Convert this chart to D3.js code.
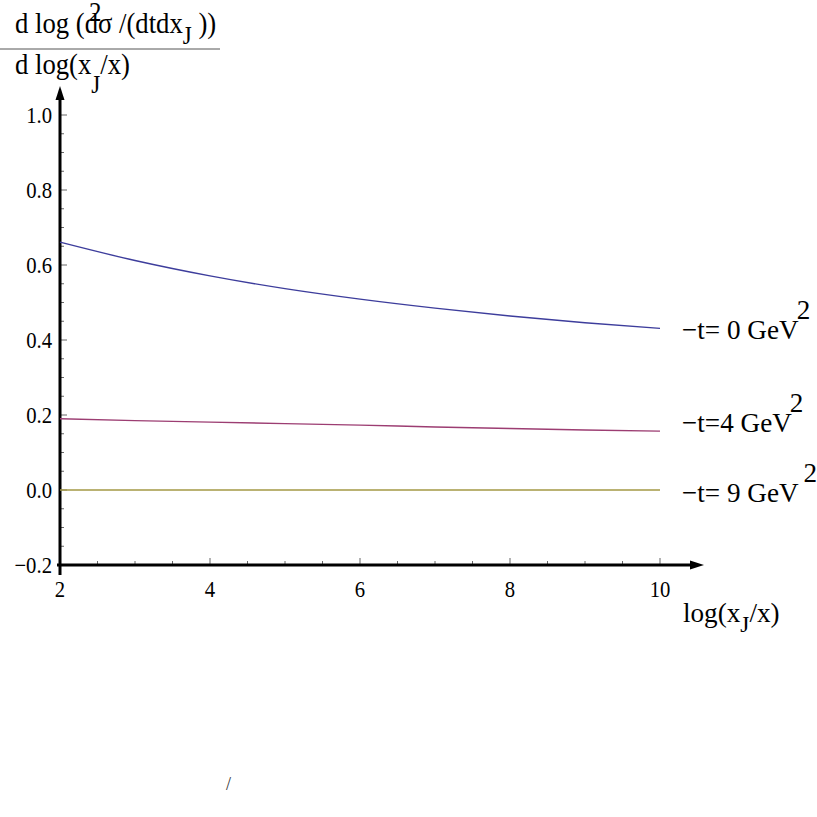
<!DOCTYPE html>
<html>
<head>
<meta charset="utf-8">
<script src="https://cdn.jsdelivr.net/npm/d3@7"></script>
<style>
  body { margin: 0; background: #fff; }
  text { font-family: "Liberation Serif", "DejaVu Serif", serif; }
</style>
</head>
<body>
<div class="canva"></div>
<script>
// data
const xValues = [2, 3, 4, 5, 6, 7, 8, 9, 10];
const t0Values = [0.661, 0.612, 0.571, 0.537, 0.509, 0.485, 0.464, 0.446, 0.431];
const t4Values = [0.190, 0.185, 0.181, 0.177, 0.173, 0.168, 0.164, 0.160, 0.157];
const t9Values = [0, 0, 0, 0, 0, 0, 0, 0, 0];
const seriesNames = ["\u2212t= 0 GeV", "\u2212t=4  GeV", "\u2212t= 9 GeV"];
const seriesColors = ["#3d3d9c", "#9c3d72", "#a39845"];
const xTicks = [2, 4, 6, 8, 10];
const yTicks = [-0.2, 0.0, 0.2, 0.4, 0.6, 0.8, 1.0];

const svg = d3.select(".canva").append("svg")
    .attr("width", 817)
    .attr("height", 817);

const x = d3.scaleLinear().domain([2, 10]).range([60, 660]);
const y = d3.scaleLinear().domain([-0.2, 1.0]).range([565, 115]);

// text squeezed sideways, like the reference's narrow Times
function squeezed(px, py, sx) {
    return svg.append("g")
        .attr("transform", `translate(${px},${py}) scale(${sx},1)`)
        .append("text");
}

// minor ticks
const yMinor = d3.range(-0.2, 1.001, 0.05);
svg.append("g").selectAll("line")
    .data(yMinor)
    .enter().append("line")
    .attr("x1", x(2))
    .attr("x2", (d, i) => x(2) + (i % 4 === 0 ? 7 : 4))
    .attr("y1", d => y(d))
    .attr("y2", d => y(d))
    .attr("stroke", "#666")
    .attr("stroke-width", 1);

const xMinor = d3.range(2, 10.001, 0.5);
svg.append("g").selectAll("line")
    .data(xMinor)
    .enter().append("line")
    .attr("x1", d => x(d))
    .attr("x2", d => x(d))
    .attr("y1", y(-0.2))
    .attr("y2", (d, i) => y(-0.2) - (i % 4 === 0 ? 7 : 4))
    .attr("stroke", "#666")
    .attr("stroke-width", 1);

// axes lines with arrows
svg.append("line")
    .attr("x1", x(2)).attr("x2", x(2))
    .attr("y1", y(-0.2) + 10).attr("y2", 96)
    .attr("stroke", "#000").attr("stroke-width", 3);
svg.append("path")
    .attr("d", `M${x(2)},86 L${x(2) - 4.5},100 L${x(2) + 4.5},100 Z`)
    .attr("fill", "#000");

svg.append("line")
    .attr("x1", x(2) - 3).attr("x2", 693)
    .attr("y1", y(-0.2)).attr("y2", y(-0.2))
    .attr("stroke", "#000").attr("stroke-width", 3);
svg.append("path")
    .attr("d", `M704,${y(-0.2)} L690,${y(-0.2) - 4.5} L690,${y(-0.2) + 4.5} Z`)
    .attr("fill", "#000");

// tick labels
yTicks.forEach(d => {
    squeezed(52, y(d) + 7.5, 0.9)
        .attr("text-anchor", "end")
        .attr("font-size", "23px")
        .text(d.toFixed(1).replace("-", "\u2212"));
});
xTicks.forEach(d => {
    squeezed(x(d), 597, 0.9)
        .attr("text-anchor", "middle")
        .attr("font-size", "23px")
        .text(d);
});

// curves
const allSeries = [t0Values, t4Values, t9Values];
const line = d3.line()
    .x((d, i) => x(xValues[i]))
    .y(d => y(d))
    .curve(d3.curveMonotoneX);

svg.append("g").selectAll("path")
    .data(allSeries)
    .enter().append("path")
    .attr("d", line)
    .attr("fill", "none")
    .attr("stroke", (d, i) => seriesColors[i])
    .attr("stroke-width", 1.4);

// series labels
const labelY = [339, 432, 502];
const supY = [319, 412, 482];
seriesNames.forEach((name, i) => {
    const t = squeezed(682, labelY[i], 0.97)
        .attr("font-size", "28px")
        .text(name);
    t.append("tspan")
        .attr("y", supY[i] - labelY[i])
        .attr("dx", i === 2 ? 5 : -2)
        .attr("font-size", "28px")
        .text("2");
});

// x axis label
const xl = squeezed(683, 622, 0.97)
    .attr("font-size", "28px")
    .text("log(x");
xl.append("tspan").attr("dy", 10).attr("font-size", "24px").text("J");
xl.append("tspan").attr("dy", -10).text("/x)");

// y axis label as a fraction
const num = squeezed(15, 33, 0.89)
    .attr("font-size", "30px")
    .text("d log (d");
num.append("tspan").attr("dy", -12).attr("dx", -10).attr("font-size", "28px").text("2");
num.append("tspan").attr("dy", 12).attr("dx", -4).text("\u03c3 /(dtdx");
num.append("tspan").attr("dy", 11).attr("font-size", "26px").text("J");
num.append("tspan").attr("dy", -11).text(" ))");

svg.append("line")
    .attr("x1", 0).attr("x2", 220)
    .attr("y1", 49).attr("y2", 49)
    .attr("stroke", "#555").attr("stroke-width", 1);

const den = squeezed(15, 74, 0.89)
    .attr("font-size", "30px")
    .text("d log(x");
den.append("tspan").attr("dy", 19).attr("dx", 0).attr("font-size", "26px").text("J");
den.append("tspan").attr("dy", -19).attr("dx", 0).text("/x)");

// stray mark near bottom
svg.append("text")
    .attr("x", 226)
    .attr("y", 790)
    .attr("font-size", "18px")
    .attr("fill", "#333")
    .text("/");
</script>
</body>
</html>
